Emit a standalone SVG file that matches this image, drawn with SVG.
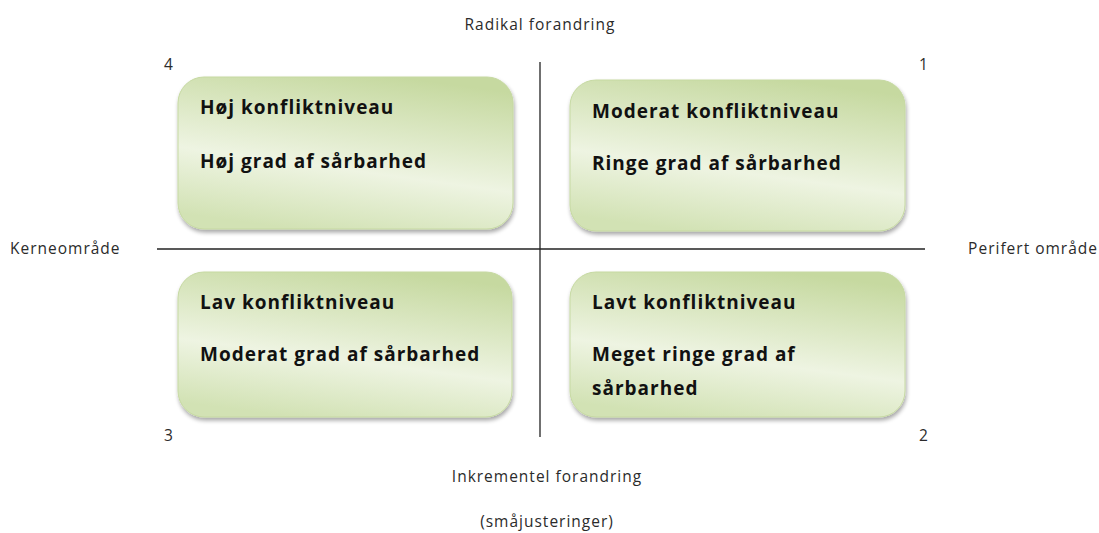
<svg xmlns="http://www.w3.org/2000/svg" width="1099" height="533" viewBox="0 0 1099 533">
  <style>
    .lbl { font-family: "Open Sans", "Liberation Sans", sans-serif; font-size: 15.5px; letter-spacing: 1px; fill: #2b2b2b; }
    .head { font-family: "Open Sans", "Liberation Sans", sans-serif; font-size: 19px; letter-spacing: 1px; font-weight: bold; fill: #111; }
    .box { fill: url(#boxFill); stroke: #c6d9a2; stroke-width: 1; filter: url(#shadow); }
    .axis { stroke: #222; stroke-width: 1.3; }
  </style>
  <defs>
    <linearGradient id="boxFill" x1="0.65" y1="0" x2="0.35" y2="1">
      <stop offset="0" stop-color="#c6d9a0"/>
      <stop offset="0.6" stop-color="#eef4e2"/>
      <stop offset="1" stop-color="#d2e2b4"/>
    </linearGradient>
    <filter id="shadow" x="-5%" y="-5%" width="112%" height="115%">
      <feGaussianBlur in="SourceAlpha" stdDeviation="2"/>
      <feOffset dx="1" dy="3" result="b"/>
      <feComponentTransfer><feFuncA type="linear" slope="0.35"/></feComponentTransfer>
      <feMerge><feMergeNode/><feMergeNode in="SourceGraphic"/></feMerge>
    </filter>
  </defs>

  <!-- axes -->
  <g id="connectors">
    <line class="axis" x1="540" y1="62" x2="540" y2="437"/>
    <line class="axis" x1="157" y1="249" x2="925" y2="249"/>
  </g>

  <!-- quadrant 4: top left -->
  <g id="q4">
    <rect class="box" x="178" y="77" width="335" height="152" rx="26"/>
    <text class="head" x="200" y="114">Høj konfliktniveau</text>
    <text class="head" x="200" y="168">Høj grad af sårbarhed</text>
  </g>

  <!-- quadrant 1: top right -->
  <g id="q1">
    <rect class="box" x="570" y="80" width="335" height="151" rx="26"/>
    <text class="head" x="592" y="118">Moderat konfliktniveau</text>
    <text class="head" x="592" y="170">Ringe grad af sårbarhed</text>
  </g>

  <!-- quadrant 3: bottom left -->
  <g id="q3">
    <rect class="box" x="178" y="272" width="334" height="145" rx="26"/>
    <text class="head" x="200" y="309">Lav konfliktniveau</text>
    <text class="head" x="200" y="361">Moderat grad af sårbarhed</text>
  </g>

  <!-- quadrant 2: bottom right -->
  <g id="q2">
    <rect class="box" x="570" y="272" width="335" height="145" rx="26"/>
    <text class="head" x="592" y="309">Lavt konfliktniveau</text>
    <text class="head" x="592" y="361">Meget ringe grad af</text>
    <text class="head" x="592" y="395">sårbarhed</text>
  </g>

  <!-- quadrant numbers -->
  <g id="numbers">
    <text class="lbl" x="164" y="70">4</text>
    <text class="lbl" x="919" y="70">1</text>
    <text class="lbl" x="164" y="441">3</text>
    <text class="lbl" x="919" y="441">2</text>
  </g>

  <!-- axis labels -->
  <g id="axis-labels">
    <text class="lbl" x="540" y="30" text-anchor="middle">Radikal forandring</text>
    <text class="lbl" x="10" y="254">Kerneområde</text>
    <text class="lbl" x="1098" y="254" text-anchor="end">Perifert område</text>
    <text class="lbl" x="547" y="482" text-anchor="middle">Inkrementel forandring</text>
    <text class="lbl" x="547" y="527" text-anchor="middle">(småjusteringer)</text>
  </g>
</svg>
